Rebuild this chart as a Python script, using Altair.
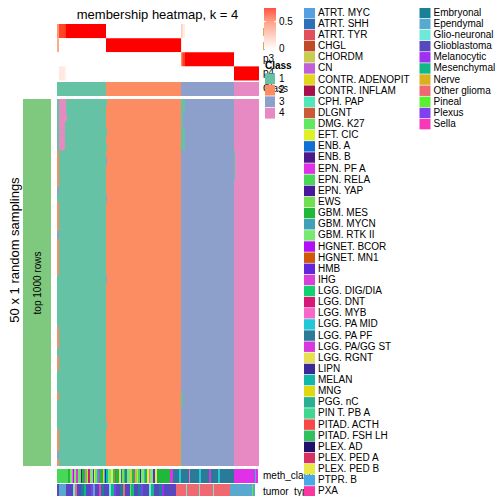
import altair as alt
import pandas as pd

# ----------------------------- data -----------------------------
class_labels = ["1", "2", "3", "4"]
class_colors = ["#66C2A5", "#FC8D62", "#8DA0CB", "#E78AC3"]
class_sizes = [49, 75, 53, 25]          # samples (columns) per consensus class
n_samplings = 50
memb_rows = ["p1", "p2", "p3", "p4"]

# columns whose membership is not a clean 0/1
soft_cols = [0, 1, 2, 3, 4, 5, 6, 7, 8, 124, 125, 126, 127]
soft_p1 = [0.55, 0.55, 0.88, 0.88, 0.88, 0.88, 0.88, 0.9, 0.92, 0.25, 0.2, 0.1, 0.1]
soft_p2 = [0.45, 0.45, 0, 0, 0, 0, 0, 0, 0, 0.15, 0, 0, 0]
soft_p3 = [0, 0, 0, 0, 0, 0, 0, 0, 0, 0.6, 0.8, 0.9, 0.9]
soft_p4 = [0, 0, 0.12, 0.12, 0.12, 0.12, 0.12, 0.1, 0.08, 0, 0, 0, 0]

# samplings in which a block of columns got a different class
dev_row = [7, 8, 9, 10, 11, 14, 15, 16, 17, 19, 20, 21, 22, 23, 31, 32, 33, 35, 36, 40, 45, 46, 47, 49,
           12, 18, 48,
           0, 1, 2, 3, 4, 5, 6,
           0, 4, 6, 44, 8, 13, 24,
           0, 1, 2, 3, 4, 5, 6, 40, 41, 45, 46, 47, 48, 49,
           7, 8, 9, 10]
dev_from = [0] * 24 + [0] * 3 + [2] * 7 + [49] * 7 + [124] * 14 + [177] * 4
dev_to = [2] * 24 + [2] * 3 + [9, 9, 10, 8, 8, 8, 8] + [50] * 7 + \
         [128, 128, 126, 126, 128, 128, 128, 126, 126, 125, 125, 125, 125, 125] + [178] * 4
dev_class = ["2"] * 24 + ["3"] * 3 + ["4"] * 7 + ["1", "1", "1", "1", "3", "3", "3"] + ["1"] * 14 + ["1"] * 4

meth_levels = ["ATRT. MYC", "ATRT. SHH", "ATRT. TYR", "CHGL", "CHORDM", "CN", "CONTR. ADENOPIT",
               "CONTR. INFLAM", "CPH. PAP", "DLGNT", "DMG. K27", "EFT. CIC", "ENB. A", "ENB. B",
               "EPN. PF A", "EPN. RELA", "EPN. YAP", "EWS", "GBM. MES", "GBM. MYCN", "GBM. RTK II",
               "HGNET. BCOR", "HGNET. MN1", "HMB", "IHG", "LGG. DIG/DIA", "LGG. DNT", "LGG. MYB",
               "LGG. PA MID", "LGG. PA PF", "LGG. PA/GG ST", "LGG. RGNT", "LIPN", "MELAN", "MNG",
               "PGG. nC", "PIN T. PB A", "PITAD. ACTH", "PITAD. FSH LH", "PLEX. AD", "PLEX. PED A",
               "PLEX. PED B", "PTPR. B", "PXA"]
meth_colors = ["#55A0E0", "#2B70B8", "#E0505A", "#C04A28", "#C8CC50", "#C060D8", "#E0D818",
               "#A8104A", "#50E8B8", "#CC5A38", "#60E860", "#E0F028", "#1070D8", "#4A1A88",
               "#E030E8", "#48D858", "#48189A", "#70E050", "#20B838", "#40A0B8", "#78E870",
               "#B010F8", "#D05808", "#6028D8", "#D840D8", "#10D070", "#D81878", "#F868C8",
               "#20C8D8", "#2A7A98", "#D838E0", "#E8E050", "#3A2A98", "#10B8A8", "#E0D810",
               "#28B090", "#40D890", "#F84848", "#30C060", "#201068", "#D83060", "#E8E848",
               "#48A8E8", "#F838A0"]

tumor_levels = ["Embryonal", "Ependymal", "Glio-neuronal", "Glioblastoma", "Melanocytic",
                "Mesenchymal", "Nerve", "Other glioma", "Pineal", "Plexus", "Sella"]
tumor_colors = ["#1A8098", "#58A8D0", "#70E8D8", "#5848C0", "#A030F0", "#10B888", "#D8B020",
                "#F06870", "#58F030", "#8040F0", "#F838B8"]

# bottom annotations, as runs along the columns
meth_cat = ["EPN. RELA", "GBM. MES", "GBM. RTK II", "LGG. MYB", "HGNET. BCOR", "GBM. RTK II",
            "LGG. PA/GG ST", "DMG. K27", "ENB. B", "GBM. MES", "IHG", "EPN. RELA", "MNG", "LGG. DNT",
            "GBM. RTK II", "HMB", "EFT. CIC", "DMG. K27", "GBM. MYCN", "EPN. PF A", "GBM. MES",
            "CONTR. ADENOPIT", "LGG. PA MID", "EPN. YAP", "MELAN", "GBM. RTK II", "PLEX. PED B",
            "LGG. DIG/DIA", "HGNET. MN1", "GBM. MES", "LGG. RGNT", "ENB. A", "EWS", "PITAD. FSH LH",
            "LGG. PA PF", "GBM. RTK II", "CHORDM", "GBM. MES", "PXA", "DMG. K27", "MNG", "EPN. RELA",
            "LIPN", "GBM. RTK II", "PTPR. B", "GBM. MES", "EFT. CIC", "LGG. MYB", "GBM. RTK II",
            "HMB", "PLEX. PED B", "GBM. MES",
            "EPN. PF A", "LGG. PA PF", "LGG. PA MID", "LGG. PA PF", "LGG. MYB", "LGG. PA PF",
            "LGG. PA MID", "LGG. PA PF", "LGG. PA/GG ST", "LGG. PA PF", "LGG. PA MID", "LGG. PA PF",
            "EPN. PF A", "LGG. PA MID", "EPN. PF A"]
meth_len = [11, 2, 2, 1, 1, 2, 2, 3, 1, 2, 1, 2, 1, 2, 3, 1, 1, 2, 2, 1, 3, 1, 1, 1, 2, 3, 2,
            2, 1, 3, 2, 1, 2, 1, 2, 3, 2, 2, 1, 2, 1, 2, 1, 3, 1, 2, 2, 1, 3, 2, 2, 13,
            3, 6, 2, 8, 1, 9, 2, 8, 2, 7, 2, 14, 21, 1, 2]

tumor_cat = ["Glioblastoma", "Ependymal", "Glioblastoma", "Glio-neuronal", "Other glioma",
             "Glioblastoma", "Embryonal", "Mesenchymal", "Glioblastoma", "Plexus", "Ependymal",
             "Glioblastoma", "Sella", "Embryonal", "Glioblastoma", "Glio-neuronal", "Mesenchymal",
             "Plexus", "Glioblastoma", "Embryonal", "Other glioma", "Glioblastoma", "Pineal",
             "Mesenchymal", "Glioblastoma", "Embryonal", "Plexus", "Glioblastoma", "Glio-neuronal",
             "Mesenchymal", "Glioblastoma", "Embryonal", "Melanocytic", "Glioblastoma",
             "Other glioma", "Glio-neuronal", "Other glioma", "Glio-neuronal", "Other glioma",
             "Glio-neuronal", "Other glioma", "Ependymal", "Pineal", "Ependymal"]
tumor_len = [2, 7, 7, 2, 2, 4, 3, 2, 5, 2, 2, 4, 2, 3, 5, 2, 3, 2, 4, 3, 2, 5, 1, 3, 4, 3, 2, 6,
             2, 3, 5, 3, 2, 12,
             10, 1, 12, 1, 13, 1, 16, 22, 1, 2]

# ----------------------------- build tables -----------------------------
N = sum(class_sizes)
col_class = []
for lab, n in zip(class_labels, class_sizes):
    col_class += [lab] * n


def runs(seq):
    out, start = [], 0
    for i in range(1, len(seq) + 1):
        if i == len(seq) or seq[i] != seq[start]:
            out.append((start, i, seq[start]))
            start = i
    return out


memb_recs = []
for k, name in enumerate(memb_rows):
    vals = []
    for c in range(N):
        p = 1.0 if col_class[c] == class_labels[k] else 0.0
        if c in soft_cols:
            p = [soft_p1, soft_p2, soft_p3, soft_p4][k][soft_cols.index(c)]
        vals.append(p)
    for a, b, p in runs(vals):
        memb_recs.append({"x0": a, "x1": b, "r0": k, "r1": k + 1, "p": p})
memb_df = pd.DataFrame(memb_recs)

class_df = pd.DataFrame([{"x0": a, "x1": b, "cls": v} for a, b, v in runs(col_class)])
base_df = class_df.assign(r0=0, r1=n_samplings)
dev_df = pd.DataFrame({"x0": dev_from, "x1": dev_to, "r0": dev_row,
                       "r1": [r + 1 for r in dev_row], "cls": dev_class})


def run_table(cats, lens):
    recs, pos = [], 0
    for c, n in zip(cats, lens):
        recs.append({"x0": pos, "x1": pos + n, "cat": c})
        pos += n
    return pd.DataFrame(recs)


meth_df = run_table(meth_cat, meth_len)
tumor_df = run_table(tumor_cat, tumor_len)

# ----------------------------- chart -----------------------------
FONT = "Liberation Sans"
XS = alt.Scale(domain=[0, N], range=[49, 251], nice=False, zero=False)
CLS = alt.Scale(domain=class_labels, range=class_colors)
METH = alt.Scale(domain=meth_levels, range=meth_colors)
TUM = alt.Scale(domain=tumor_levels, range=tumor_colors)


def rect_layer(df, ydom, yrng, color):
    return alt.Chart(df).mark_rect(strokeWidth=0).encode(
        x=alt.X("x0:Q", scale=XS, axis=None), x2="x1:Q",
        y=alt.Y("r0:Q", scale=alt.Scale(domain=ydom, range=yrng, nice=False, zero=False), axis=None),
        y2="r1:Q", color=color)


layers = []
# membership rows
layers.append(rect_layer(memb_df, [0, 4], [16, 72.5],
                         alt.Color("p:Q", scale=alt.Scale(domain=[0, 1], range=["white", "red"],
                                                          interpolate="lab"), legend=None)))
# class bar
layers.append(rect_layer(class_df.assign(r0=0, r1=1), [0, 1], [74, 88],
                         alt.Color("cls:N", scale=CLS, legend=None)))
# main heatmap
layers.append(rect_layer(base_df, [0, n_samplings], [91, 458], alt.Color("cls:N", scale=CLS, legend=None)))
layers.append(rect_layer(dev_df, [0, n_samplings], [91, 458], alt.Color("cls:N", scale=CLS, legend=None)))
# bottom annotations
layers.append(rect_layer(meth_df.assign(r0=0, r1=1), [0, 1], [461, 475],
                         alt.Color("cat:N", scale=METH, legend=None)))
layers.append(rect_layer(tumor_df.assign(r0=0, r1=1), [0, 1], [476, 491],
                         alt.Color("cat:N", scale=TUM, legend=None)))

# left row-slice bar
layers.append(alt.Chart(pd.DataFrame({"r0": [0], "r1": [n_samplings]})).mark_rect(color="#7FC97F").encode(
    x=alt.value(15), x2=alt.value(43),
    y=alt.Y("r0:Q", scale=alt.Scale(domain=[0, n_samplings], range=[91, 458], nice=False, zero=False),
            axis=None), y2="r1:Q"))


def text_layer(t, x, y, size=10, angle=0, align="left", weight="normal", baseline="middle"):
    return alt.Chart(pd.DataFrame({"t": [t]})).mark_text(
        font=FONT, fontSize=size, angle=angle, align=align, baseline=baseline,
        fontWeight=weight, color="black").encode(x=alt.value(x), y=alt.value(y), text="t:N")


layers.append(text_layer("membership heatmap, k = 4", 149.5, 0.5, size=13, align="center", baseline="top"))
layers.append(text_layer("top 1000 rows", 30, 275, size=10, angle=270, align="center"))
layers.append(text_layer("50 x 1 random samplings", 6.5, 242, size=13, angle=270, align="center"))
for k, name in enumerate(memb_rows):
    layers.append(text_layer(name, 255, 23 + 14.1 * k))
layers.append(text_layer("Class", 255, 81))
layers.append(text_layer("meth_class", 255, 468))
layers.append(text_layer("tumor_type", 255, 483.5))

# gradient legend for membership
grad = alt.LinearGradient(gradient="linear", x1=0, x2=0, y1=1, y2=0,
                          stops=[alt.GradientStop(color="white", offset=0),
                                 alt.GradientStop(color="#FFA287", offset=0.5),
                                 alt.GradientStop(color="red", offset=1)])
layers.append(alt.Chart(pd.DataFrame({"a": [0]})).mark_rect(color=grad).encode(
    x=alt.value(256), x2=alt.value(268), y=alt.value(-14), y2=alt.value(41.5)))
for xa, xb in [(256, 258), (266, 268)]:
    layers.append(alt.Chart(pd.DataFrame({"a": [0]})).mark_rule(color="white", strokeWidth=1).encode(
        x=alt.value(xa), x2=alt.value(xb), y=alt.value(13.7)))
layers.append(text_layer("0.5", 271, 13.7))
layers.append(text_layer("0", 271, 41.3))

# class legend
cl_df = pd.DataFrame({"lab": class_labels, "i": range(4)})
cl_df["i0"] = cl_df["i"] - 0.47
cl_df["i1"] = cl_df["i"] + 0.47
CLY = alt.Scale(domain=[0, 4], range=[70.7, 116.7], nice=False, zero=False)
layers.append(text_layer("Class", 257, 58, weight="bold"))
layers.append(alt.Chart(cl_df).mark_rect().encode(
    x=alt.value(257), x2=alt.value(267),
    y=alt.Y("i0:Q", scale=CLY, axis=None), y2="i1:Q",
    color=alt.Color("lab:N", scale=CLS, legend=None)))
layers.append(alt.Chart(cl_df).mark_text(font=FONT, fontSize=10, align="left", baseline="middle").encode(
    x=alt.value(271), y=alt.Y("i:Q", scale=CLY, axis=None), text="lab:N"))


# meth_class / tumor_type legends
STEP = 11.13
TOP = 4.8


def legend_cols(levels, scale, xs, xt):
    df = pd.DataFrame({"lab": levels, "i": range(len(levels))})
    df["i0"] = df["i"] - 0.47
    df["i1"] = df["i"] + 0.47
    ys = alt.Scale(domain=[0, 44], range=[TOP, TOP + 44 * STEP], nice=False, zero=False)
    sw = alt.Chart(df).mark_rect().encode(
        x=alt.value(xs), x2=alt.value(xs + 11),
        y=alt.Y("i0:Q", scale=ys, axis=None), y2="i1:Q",
        color=alt.Color("lab:N", scale=scale, legend=None))
    tx = alt.Chart(df).mark_text(font=FONT, fontSize=10, align="left", baseline="middle").encode(
        x=alt.value(xt), y=alt.Y("i:Q", scale=ys, axis=None), text="lab:N")
    return [sw, tx]


layers += legend_cols(meth_levels, METH, 296, 310)
layers += legend_cols(tumor_levels, TUM, 411.5, 425.5)

chart = alt.layer(*layers).resolve_scale(
    x="independent", y="independent", color="independent"
).properties(
    width=488, height=488, padding=0, autosize=alt.AutoSizeParams(type="none"), background="white"
).configure_view(stroke=None)

chart.save("out.html", embed_options={"renderer": "svg", "actions": False})
